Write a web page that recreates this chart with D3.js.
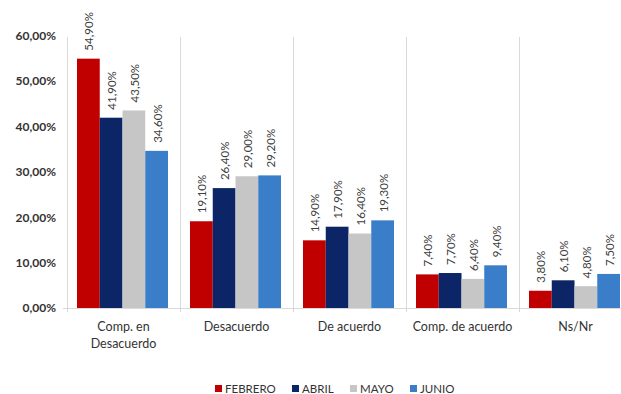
<!DOCTYPE html>
<html><head><meta charset="utf-8">
<script src="https://cdn.jsdelivr.net/npm/d3@7"></script>
<style>body{margin:0;background:#fff}svg{display:block}</style>
</head><body><svg id="c" width="621" height="394"></svg>
<script>
const categories = [["Comp. en","Desacuerdo"],["Desacuerdo"],["De acuerdo"],["Comp. de acuerdo"],["Ns/Nr"]];
const seriesNames = ["FEBRERO","ABRIL","MAYO","JUNIO"];
const febrero = [54.9, 19.1, 14.9, 7.4, 3.8];
const abril = [41.9, 26.4, 17.9, 7.7, 6.1];
const mayo = [43.5, 29.0, 16.4, 6.4, 4.8];
const junio = [34.6, 29.2, 19.3, 9.4, 7.5];
const yTicks = [0,10,20,30,40,50,60];
const colors = ["#C00000","#0B2566","#C6C6C6","#3A7EC9"];

const series = [febrero, abril, mayo, junio];
const svg = d3.select("#c");
const font = "Lato, 'Open Sans', sans-serif";
const catIdx = categories.map((c,i)=>i);
const x0 = d3.scaleBand().domain(catIdx).range([67, 632]);
const x1 = d3.scaleBand().domain(d3.range(4)).range([10, 101]);
const y = d3.scaleLinear().domain([0,60]).range([308, 35.5]);
const fmt = v => d3.format(".2f")(v).replace(".", ",") + "%";

// separators
svg.append("g").selectAll("line").data(d3.range(6)).join("line")
  .attr("x1", i=> (i<5? x0(i): 632)+0.5).attr("x2", i=>(i<5? x0(i): 632)+0.5)
  .attr("y1", 37).attr("y2", 312).attr("stroke", "#d9d9d9").attr("stroke-width",1);
svg.append("line").attr("x1",63).attr("x2",632).attr("y1",308.5).attr("y2",308.5).attr("stroke","#d9d9d9");

// y axis
const yAxis = d3.axisLeft(y).tickValues(yTicks).tickSize(0).tickPadding(10).tickFormat(fmt);
const ga = svg.append("g").attr("transform","translate(66,0)").call(yAxis);
ga.select(".domain").remove();
ga.selectAll("text").attr("font-family", font).attr("font-size", 12).attr("font-weight","bold").attr("fill","#333");

// bars
const g = svg.append("g");
series.forEach((vals, s) => {
  g.append("g").selectAll("rect").data(vals).join("rect")
    .attr("x", (v,i)=> x0(i)+x1(s)).attr("width", x1.bandwidth())
    .attr("y", v=>y(v)).attr("height", v=>y(0)-y(v)).attr("fill", colors[s]);
  g.append("g").selectAll("text").data(vals).join("text")
    .attr("transform", (v,i)=>`translate(${x0(i)+x1(s)+x1.bandwidth()/2+5},${y(v)-8}) rotate(-90)`)
    .attr("font-family", font).attr("font-size", 11.5).attr("fill","#404040")
    .text(v=>fmt(v));
});

// category labels
const gc = svg.append("g");
categories.forEach((lines,i)=>{
  const t = gc.append("text").attr("x", x0(i)+x0.bandwidth()/2).attr("y", 331)
    .attr("text-anchor","middle").attr("font-family", font).attr("font-size", 12.5).attr("fill","#333");
  lines.forEach((l,j)=> t.append("tspan").attr("x", x0(i)+x0.bandwidth()/2).attr("dy", j?17:0).text(l));
});

// legend
const legX = [215, 292, 350, 410];
const lg = svg.append("g");
seriesNames.forEach((n,s)=>{
  lg.append("rect").attr("x", legX[s]).attr("y", 385).attr("width",7).attr("height",7).attr("fill",colors[s]);
  lg.append("text").attr("x", legX[s]+10).attr("y", 392.5).attr("font-family", font).attr("font-size", 11.5).attr("fill","#333").text(n);
});
</script></body></html>
